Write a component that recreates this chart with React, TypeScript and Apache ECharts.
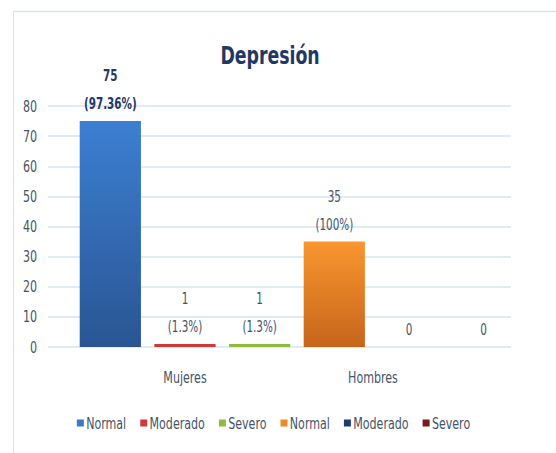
import React, { useEffect, useRef } from "react";
import * as echarts from "echarts";

const groups = ["Mujeres", "Hombres"];
const slots = ["s1", "s2", "s3", "s4", "s5", "s6"];
const seriesNames = ["Normal", "Moderado", "Severo", "Normal", "Moderado", "Severo"];
const values = [75, 1, 1, 35, 0, 0];
const percents = ["97.36%", "1.3%", "1.3%", "100%", "", ""];
const yTicks = { min: 0, max: 80, interval: 10 };

// horizontal squeeze of the drawing, to mimic the narrow Calibri-like text
const S = 0.77;
const PAGE_W = 556;
const PAGE_H = 453;
const W = PAGE_W / S;
const px = (x: number) => x / S; // screen x -> chart x

const FONT = "'DejaVu Sans Condensed', 'DejaVu Sans', sans-serif";
const TEXT = "#44546A";
const NAVY = "#1F3864";
const GRID_LINE = "#D6E4F3";

const legendColors = ["#3B79C9", "#D0393A", "#8FBC3E", "#F08A26", "#1F3D70", "#7A1A1A"];
const barColors: any[] = [
  new echarts.graphic.LinearGradient(0, 0, 0, 1, [
    { offset: 0, color: "#3C7FD2" },
    { offset: 1, color: "#2A5593" },
  ]),
  "#D0393A",
  "#8FBC3E",
  new echarts.graphic.LinearGradient(0, 0, 0, 1, [
    { offset: 0, color: "#FA962F" },
    { offset: 1, color: "#C6651C" },
  ]),
  "#1F3D70",
  "#7A1A1A",
];

// unique internal names so the legend keeps duplicated labels
const uid = (i: number) => seriesNames[i] + (i >= 3 ? "\u200b" : "");

export default function App() {
  const ref = useRef<HTMLDivElement>(null);
  useEffect(() => {
    if (!ref.current) return;
    const chart = echarts.init(ref.current, null, { renderer: "svg" });
    const series = values.map((v, i) => ({
      name: uid(i),
      type: "bar",
      stack: "all",
      xAxisIndex: 1,
      yAxisIndex: 1,
      barWidth: "82%",
      itemStyle: { color: barColors[i] },
      data: slots.map((_, j) => (j === i ? v : "-")),
      label: {
        show: true,
        position: "top",
        distance: 3,
        fontFamily: FONT,
        fontSize: 15,
        lineHeight: 28,
        color: i === 0 ? NAVY : TEXT,
        fontWeight: i === 0 ? "bold" : "normal",
        formatter: () => (percents[i] ? `${v}\n(${percents[i]})` : `${v}`),
      },
    }));
    chart.setOption({
      animation: false,
      textStyle: { fontFamily: FONT },
      graphic: [
        {
          type: "rect",
          shape: { x: px(13.5), y: 11.5, width: W, height: PAGE_H },
          style: { fill: "none", stroke: "#D6E4F4", lineWidth: 1.5 },
          silent: true,
        },
        {
          type: "text",
          x: px(270),
          y: 55,
          style: {
            text: "Depresión",
            textAlign: "center",
            textVerticalAlign: "middle",
            fontFamily: FONT,
            fontSize: 25,
            fontWeight: "bold",
            fill: NAVY,
          },
        },
      ],
      grid: [
        { left: px(48), right: px(PAGE_W - 511), top: 106, bottom: 106 },
        { left: px(73), right: px(PAGE_W - 521), top: 106, bottom: 106 },
        { left: px(91), right: px(PAGE_W - 467), top: 106, bottom: 106 },
      ],
      xAxis: [
        { type: "category", gridIndex: 0, data: slots, show: false },
        { type: "category", gridIndex: 1, data: slots, show: false },
        {
          type: "category",
          gridIndex: 2,
          data: groups,
          axisLine: { show: false },
          axisTick: { show: false },
          axisLabel: { margin: 22, fontSize: 16, color: TEXT, fontFamily: FONT },
        },
      ],
      yAxis: [
        {
          type: "value",
          gridIndex: 0,
          ...yTicks,
          axisLine: { show: false },
          axisTick: { show: false },
          axisLabel: { margin: px(11), fontSize: 16, color: TEXT, fontFamily: FONT },
          splitLine: { lineStyle: { color: GRID_LINE, width: 1.5 } },
        },
        { type: "value", gridIndex: 1, ...yTicks, show: false, splitLine: { show: false } },
        { type: "value", gridIndex: 2, ...yTicks, show: false, splitLine: { show: false } },
      ],
      legend: {
        top: 410,
        left: px(73),
        icon: "rect",
        itemWidth: px(7),
        itemHeight: 7,
        itemGap: px(14),
        textStyle: { fontSize: 16, color: TEXT, fontFamily: FONT, padding: [0, 0, 0, -2] },
        formatter: (n: string) => n.replace(/\u200b/g, ""),
        data: values.map((_, i) => ({ name: uid(i), itemStyle: { color: legendColors[i] } })),
      },
      series,
    });
    return () => chart.dispose();
  }, []);
  return (
    <div
      ref={ref}
      style={{
        position: "fixed",
        left: 0,
        top: 0,
        width: W,
        height: PAGE_H,
        background: "#fff",
        transform: `scaleX(${S})`,
        transformOrigin: "0 0",
      }}
    />
  );
}
